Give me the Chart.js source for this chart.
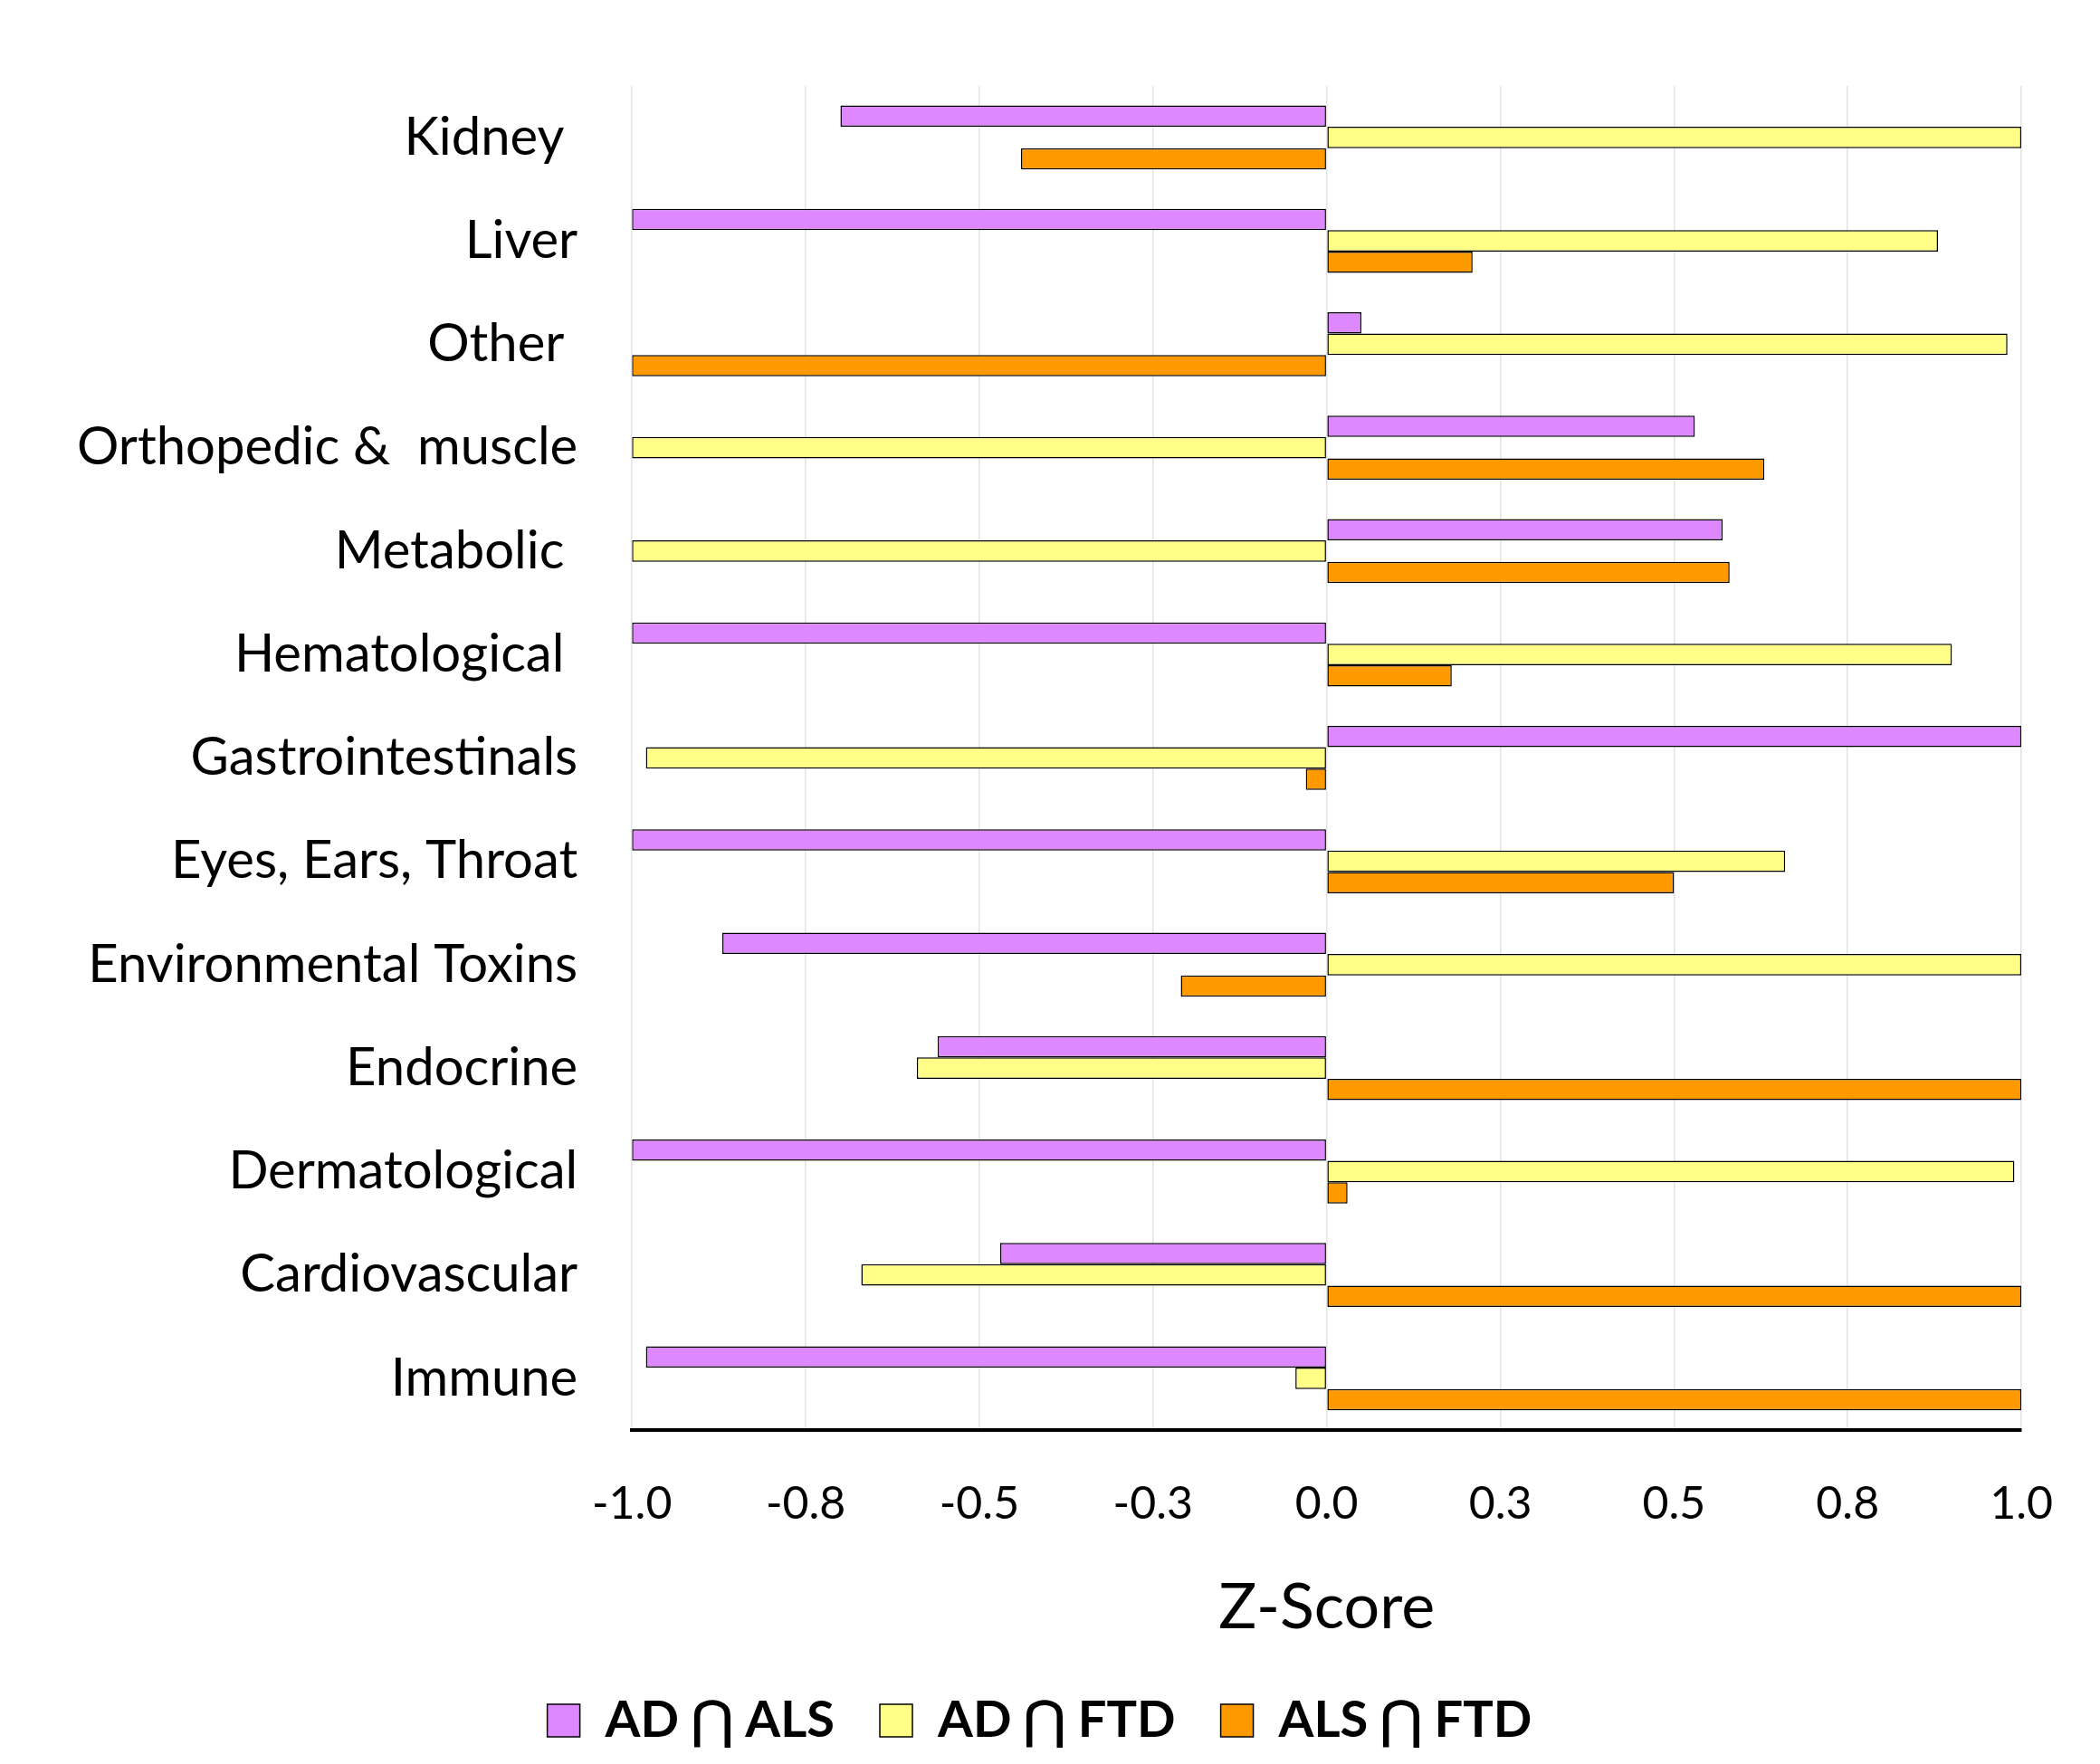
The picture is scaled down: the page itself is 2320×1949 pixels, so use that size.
<!DOCTYPE html>
<html><head><meta charset="utf-8">
<script src="https://cdn.jsdelivr.net/npm/chart.js@4"></script>
<style>html,body{margin:0;padding:0;background:#fff}</style>
</head><body>
<canvas id="c" width="2320" height="1949"></canvas>
<script>
const categories = ["Kidney ", "Liver", "Other ", "Orthopedic &  muscle", "Metabolic ", "Hematological ", "Gastrointestinals", "Eyes, Ears, Throat", "Environmental Toxins", "Endocrine", "Dermatological", "Cardiovascular", "Immune"];
const adAls  = [-0.70, -1.0, 0.05, 0.53, 0.57, -1.0, 1.0, -1.0, -0.87, -0.56, -1.0, -0.47, -0.98];
const adFtd  = [1.0, 0.88, 0.98, -1.0, -1.0, 0.90, -0.98, 0.66, 1.0, -0.59, 0.99, -0.67, -0.045];
const alsFtd = [-0.44, 0.21, -1.0, 0.63, 0.58, 0.18, -0.03, 0.50, -0.21, 1.0, 0.03, 1.0, 1.0];
const seriesNames = ["AD \u22C2 ALS", "AD \u22C2 FTD", "ALS \u22C2 FTD"];
const colors = ["#dd88ff", "#ffff88", "#ff9900"];
const font = "Lato, 'Open Sans', sans-serif";
new Chart(document.getElementById('c'), {
  type: 'bar',
  data: {
    labels: categories,
    datasets: [adAls, adFtd, alsFtd].map((d, i) => ({
      label: seriesNames[i], data: d, backgroundColor: colors[i],
      borderColor: '#000', borderWidth: 1.5, borderSkipped: false,
      categoryPercentage: 0.62, barPercentage: 1.0
    }))
  },
  options: {
    indexAxis: 'y', responsive: false, animation: false,
    layout: { padding: { top: -60, right: 48, bottom: 10, left: 25 } },
    scales: {
      x: {
        min: -1, max: 1,
        ticks: { stepSize: 0.25, color: '#000', font: { family: font, size: 50 }, padding: 52,
          callback: v => Number(v).toFixed(1) },
        grid: { color: '#e4e4e4', lineWidth: 1.5, drawTicks: false },
        border: { color: '#000', width: 4 },
        title: { display: true, text: 'Z-Score', color: '#000', font: { family: font, size: 70 }, padding: { top: -10, bottom: 5 } }
      },
      y: {
        ticks: { color: '#000', font: { family: font, size: 58 }, padding: 60 },
        grid: { display: false, drawTicks: false },
        border: { display: false }
      }
    },
    plugins: {
      legend: {
        position: 'bottom',
        labels: { color: '#000', font: { family: font, size: 56, weight: 'bold' }, boxWidth: 36, boxHeight: 36, padding: 50,
          generateLabels: ch => ch.data.datasets.map((ds, i) => ({ text: ds.label, fillStyle: colors[i], strokeStyle: '#000', lineWidth: 1.5, datasetIndex: i })) }
      },
      tooltip: { enabled: false }
    }
  }
});
</script>
</body></html>
